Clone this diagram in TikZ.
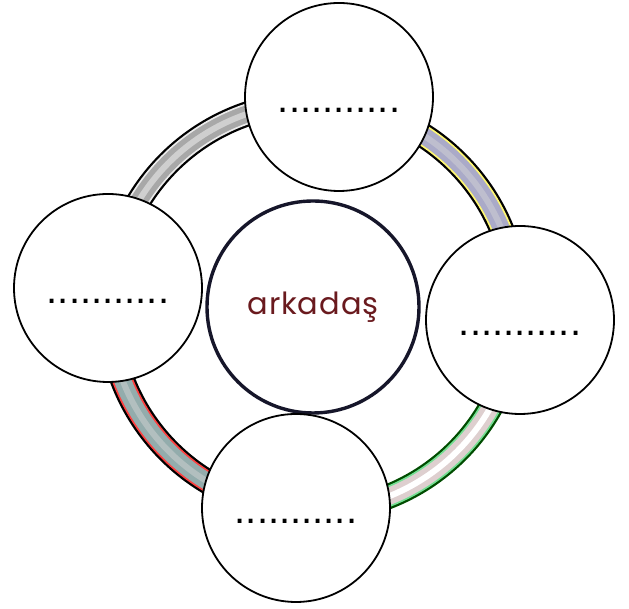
\documentclass[tikz,border=0pt]{standalone}
\usepackage{fontspec}
\usepackage{tikz}
\newfontfamily\wordfont[LetterSpace=3]{Poppins}
\newfontfamily\dotfont{Liberation Sans}
\definecolor{wordred}{HTML}{6A1A1E}
\definecolor{hubline}{HTML}{16162A}

\begin{document}
\begin{tikzpicture}[x=1pt, y=1pt,
    sat/.style={circle, draw=black, line width=1.8pt, fill=white,
      minimum size=188pt, inner sep=0pt, text height=31pt, text depth=0pt,
      font=\dotfont\fontsize{40}{42}\selectfont},
    hubnode/.style={circle, draw=hubline, line width=3.4pt, fill=white,
      minimum size=212pt, inner sep=0pt, text=wordred,
      font=\wordfont\fontsize{30.5}{32}\selectfont}]
  \useasboundingbox (0,0) rectangle (629,609);
  \node[hubnode] (hub) at (313,302) {arkadaş};
  % --- the ring, one arc per pair of neighbours ---
  \foreach \a/\b/\ec/\fc/\hc/\oc in {
      83/175/gray!15/gray!68/gray!38/black,
      175/265/red!75/teal!30!gray!65/teal!20!gray!50/black,
      265/356/green!55!teal!55/red!18!gray!32/white/green!30!black,
      -4/83/yellow!55/blue!22!gray!55/blue!14!gray!45/black}
    {\draw[\oc, line width=25pt] (hub.center) ++(\a:204) arc[start angle=\a, end angle=\b, radius=204];
     \draw[\ec, line width=20.5pt] (hub.center) ++(\a:204) arc[start angle=\a, end angle=\b, radius=204];
     \draw[\fc, line width=17pt] (hub.center) ++(\a:204) arc[start angle=\a, end angle=\b, radius=204];
     \draw[\hc, line width=6pt] (hub.center) ++(\a:204) arc[start angle=\a, end angle=\b, radius=204];}
  % --- the four blank circles ---
  \node[sat] (top) at (339,512) {...........};
  \node[sat] (left) at (108,321) {...........};
  \node[sat] (right) at (520,289) {...........};
  \node[sat] (bottom) at (296,101) {...........};
\end{tikzpicture}
\end{document}
